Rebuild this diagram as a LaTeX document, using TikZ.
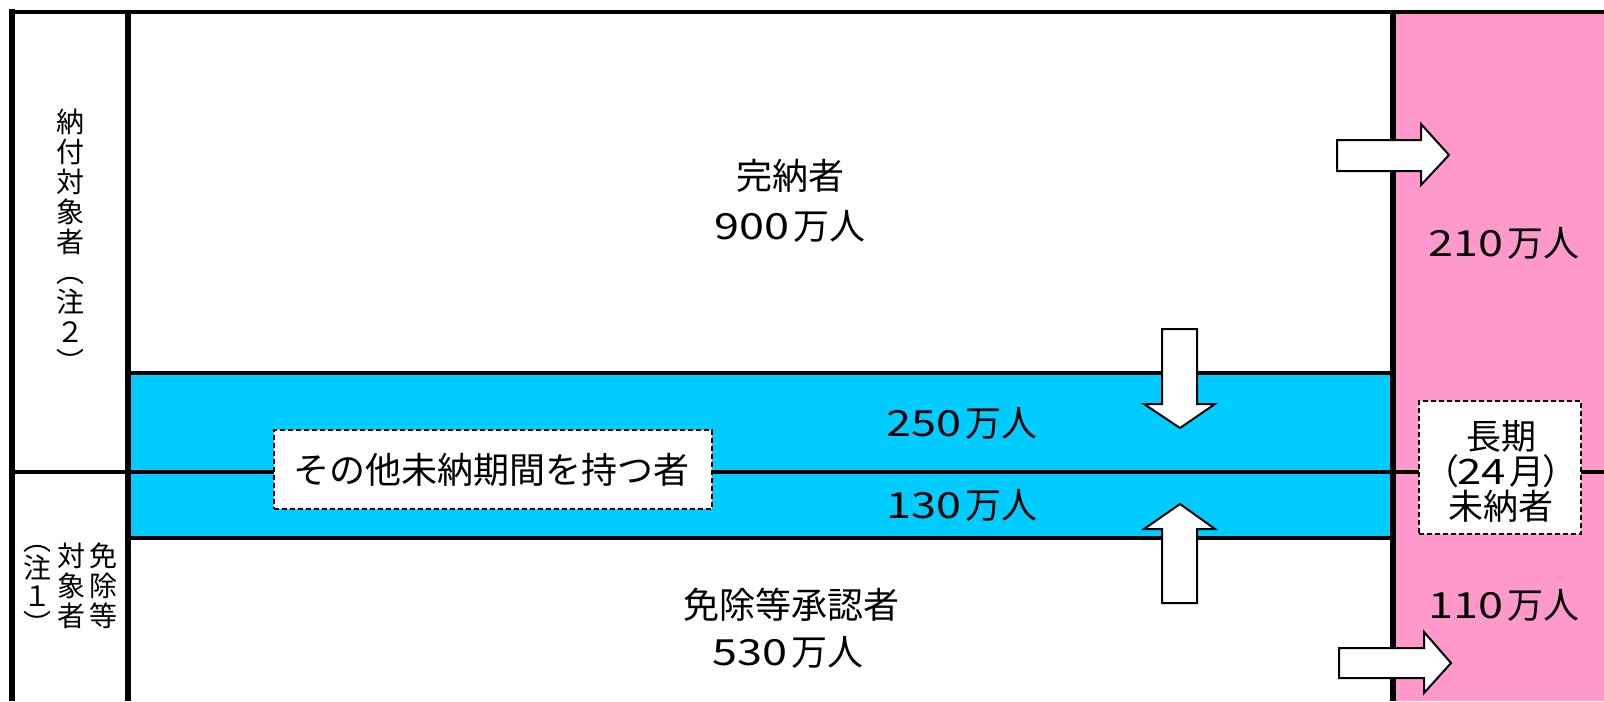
\documentclass[tikz,border=0pt]{standalone}
\usepackage{fontspec}
\usepackage{graphicx}
\setmainfont{Noto Sans CJK JP}
\newcommand\D[1]{\scalebox{1.25}[1]{#1}}
\newcommand\mk{\kern0.1em}
\tikzset{
  vline/.style={line width=2.75pt},
  hline/.style={line width=2.2pt},
  blockarrow/.style={draw, fill=white, line width=1pt, line join=miter},
  dashbox/.style={draw, fill=white, line width=0.8pt, dash pattern=on 2.5pt off 1.5pt, inner sep=0pt},
  big/.style={inner sep=0pt, font=\fontsize{18}{20}\selectfont},
  vert/.style={inner sep=0pt, align=center, font=\fontsize{14}{15}\selectfont},
}
\begin{document}
\begin{tikzpicture}[x=0.5pt, y=-0.5pt]
\useasboundingbox (0,0) rectangle (1604,701);
% fills
\fill[fill={rgb,255:red,0;green,204;blue,255}] (128,373) rectangle (1393,538);
\fill[fill={rgb,255:red,255;green,153;blue,204}] (1393,12) rectangle (1604,701);
% lines
\coordinate (tl) at (12,9);
\coordinate (bl) at (12,701);
\coordinate (ti) at (128,12);
\coordinate (bi) at (128,701);
\coordinate (tp) at (1393,12);
\coordinate (bp) at (1393,701);
\coordinate (tr) at (1604,12);
\coordinate (ml) at (12,472);
\coordinate (mr) at (1604,472);
\coordinate (ctl) at (128,373);
\coordinate (ctr) at (1393,373);
\coordinate (cbl) at (128,538);
\coordinate (cbr) at (1393,538);
\draw[hline] (9,12) -- (tr);
\draw[hline] (ml) -- (mr);
\draw[hline] (ctl) -- (ctr);
\draw[hline] (cbl) -- (cbr);
\draw[vline] (tl) -- (bl);
\draw[vline] (ti) -- (bi);
\draw[vline] (tp) -- (bp);
% block arrows
\draw[blockarrow] (1337,140) -- (1421,140) -- (1421,124) -- (1449,155) -- (1421,185) -- (1421,171) -- (1337,171) -- cycle;
\draw[blockarrow] (1339,648) -- (1424,648) -- (1424,632) -- (1451,663) -- (1424,693) -- (1424,678) -- (1339,678) -- cycle;
\draw[blockarrow] (1162,329) -- (1197,329) -- (1197,404) -- (1215,404) -- (1180,428) -- (1144,404) -- (1162,404) -- cycle;
\draw[blockarrow] (1162,603) -- (1197,603) -- (1197,529) -- (1215,529) -- (1180,504) -- (1144,529) -- (1162,529) -- cycle;
% dashed boxes
\node[dashbox, minimum width=219pt, minimum height=39.5pt] (other) at (493,469.5) {};
\node[big] (othertxt) at (491,470) {その他未納期間を持つ者};
\node[dashbox, minimum width=81pt, minimum height=66.5pt] (long) at (1500,467.5) {};
\node[inner sep=0pt, align=center, font=\fontsize{17.5}{17.5}\selectfont] (longtxt) at (1501,471)
  {長期\\（\kern-0.05em\D{2}\D{4}\mk 月\kern-0.05em）\\未納者};
% main texts
\node[big] (kan) at (790,176) {完納者};
\node[big] (kann) at (790,226) {\D{9}\D{0}\D{0}\mk 万人};
\node[big] (men) at (791,605) {免除等承認者};
\node[big] (menn) at (788,652) {\D{5}\D{3}\D{0}\mk 万人};
\node[big] (c250) at (962,423) {\D{2}\D{5}\D{0}\mk 万人};
\node[big] (c130) at (962,505) {\D{1}\D{3}\D{0}\mk 万人};
\node[big] (p210) at (1504,243) {\D{2}\D{1}\D{0}\mk 万人};
\node[big] (p110) at (1504,605) {\D{1}\D{1}\D{0}\mk 万人};
% vertical labels
\node[vert] (nofu) at (70,241) {納\\付\\対\\象\\者\\︵\\注\\２\\︶};
\node[vert] (men1) at (103,586) {免\\除\\等};
\node[vert] (men2) at (71,586) {対\\象\\者};
\node[vert, font=\fontsize{14}{14}\selectfont] (men3) at (37,590) {︵\\注\\１\\︶};
\end{tikzpicture}
\end{document}
